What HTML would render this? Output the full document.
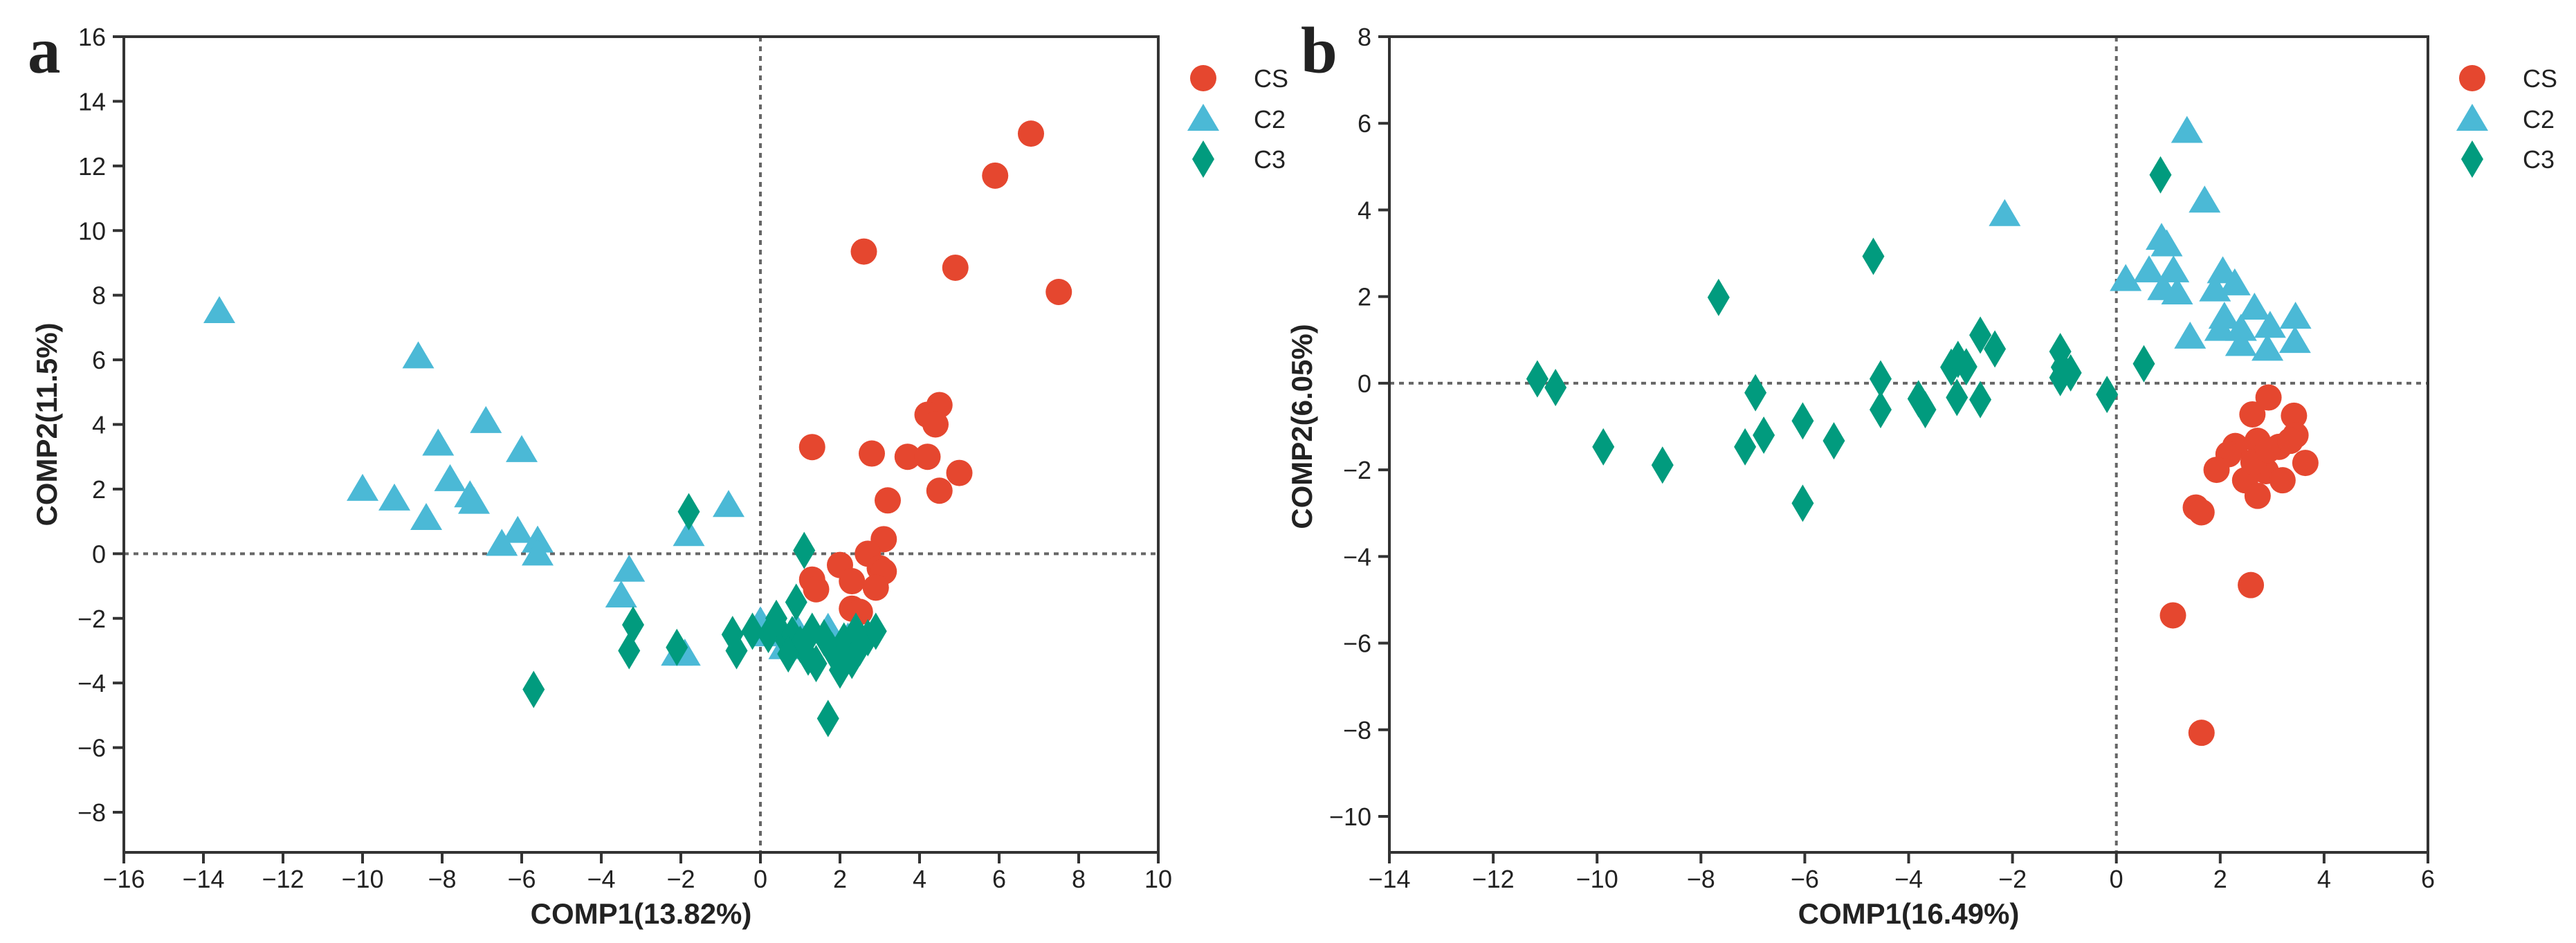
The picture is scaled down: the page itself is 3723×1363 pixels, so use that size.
<!DOCTYPE html>
<html><head><meta charset="utf-8"><style>
html,body{margin:0;padding:0;background:#fff;}
svg{display:block;}
text{font-family:"Liberation Sans",sans-serif;fill:#222;}
</style></head><body>
<svg id="fig" width="3723" height="1363" viewBox="0 0 3723 1363" xmlns="http://www.w3.org/2000/svg"></svg>
<script>
// ---- Panel a data ----
const aXTicks = [-16,-14,-12,-10,-8,-6,-4,-2,0,2,4,6,8,10];
const aYTicks = [16,14,12,10,8,6,4,2,0,-2,-4,-6,-8];
const aCSx = [6.8,5.9,2.6,4.9,7.5,4.5,4.2,4.4,1.3,2.8,3.7,4.2,5.0,4.5,3.2,3.1,2.7,2.0,3.0,3.1,1.3,2.3,1.4,2.9,2.3,2.5];
const aCSy = [13.0,11.7,9.35,8.85,8.1,4.6,4.3,4.0,3.3,3.1,3.0,3.0,2.5,1.95,1.65,0.45,0.0,-0.35,-0.45,-0.55,-0.8,-0.85,-1.1,-1.05,-1.7,-1.8];
const aC2x = [-13.6,-8.6,-6.9,-8.1,-6.0,-7.8,-10.0,-9.2,-7.3,-7.2,-8.4,-6.1,-6.5,-5.6,-5.6,-0.8,-1.8,-3.3,-3.5,-1.9,-2.1,0.0,0.4,0.9,1.7,0.6,1.0,2.2,0.2];
const aC2y = [7.5,6.1,4.1,3.4,3.2,2.3,2.0,1.7,1.8,1.6,1.1,0.7,0.3,0.4,0.0,1.5,0.6,-0.5,-1.3,-3.1,-3.1,-2.1,-2.1,-2.3,-2.3,-2.9,-2.8,-2.6,-2.5];
const aC3x = [-1.8,1.1,-3.2,-3.3,-2.1,-0.7,-0.6,-5.7,1.7,0.9,0.2,0.5,0.4,0.8,1.0,1.3,1.2,1.4,1.6,1.8,2.0,2.1,2.3,2.5,2.7,2.9,0.7,-0.2,2.4];
const aC3y = [1.3,0.1,-2.2,-3.0,-2.9,-2.5,-3.0,-4.2,-5.1,-1.5,-2.5,-2.4,-2.0,-2.5,-2.8,-2.4,-3.2,-3.4,-2.6,-3.0,-3.6,-2.7,-3.3,-2.9,-2.6,-2.4,-3.1,-2.4,-2.4];
// ---- Panel b data ----
const bXTicks = [-14,-12,-10,-8,-6,-4,-2,0,2,4,6];
const bYTicks = [8,6,4,2,0,-2,-4,-6,-8,-10];
const bCSx = [2.93,2.62,3.42,2.29,2.72,3.13,3.45,2.16,1.93,2.48,2.88,3.2,3.64,2.72,1.53,1.64,2.59,1.09,1.64,2.64,2.92,3.35];
const bCSy = [-0.33,-0.72,-0.75,-1.45,-1.33,-1.47,-1.2,-1.64,-2.0,-2.24,-2.03,-2.24,-1.84,-2.6,-2.87,-2.98,-4.66,-5.36,-8.07,-1.82,-1.54,-1.33];
const bC2x = [1.36,-2.15,1.7,0.87,0.97,0.18,0.63,1.1,0.9,1.17,2.05,1.9,2.28,2.08,2.4,2.66,2.96,1.42,2.4,2.91,3.45,3.44,2.0];
const bC2y = [5.82,3.9,4.21,3.35,3.2,2.4,2.6,2.6,2.19,2.09,2.58,2.16,2.3,1.53,1.25,1.74,1.32,1.07,0.9,0.79,1.53,0.97,1.25];
const bC3x = [-11.15,-10.8,-9.88,-8.74,-7.66,-6.95,-7.15,-6.79,-6.04,-6.04,-5.44,-4.68,-4.54,-4.54,-3.81,-3.68,-3.18,-3.05,-2.89,-3.07,-2.62,-2.62,-2.34,-1.08,-1.05,-1.08,-0.88,-0.18,0.53,0.85];
const bC3y = [0.1,-0.1,-1.47,-1.89,1.98,-0.22,-1.47,-1.2,-0.87,-2.77,-1.33,2.93,0.1,-0.61,-0.36,-0.61,0.37,0.55,0.38,-0.33,1.11,-0.38,0.79,0.73,0.37,0.13,0.24,-0.26,0.45,4.81];

const NS='http://www.w3.org/2000/svg';
const svg=document.getElementById('fig');
function mk(tag,attrs,parent){const e=document.createElementNS(NS,tag);for(const k in attrs)e.setAttribute(k,attrs[k]);(parent||svg).appendChild(e);return e;}
const RED='#e5472f',BLUE='#4bb9d6',GREEN='#019b7e';

function marker(g,type,cx,cy){
  let e;
  if(type==='cs'){e=mk('ellipse',{cx:cx,cy:cy,rx:19,ry:19,fill:RED},g);}
  else if(type==='c2'){e=mk('polygon',{points:(cx)+','+(cy-22)+' '+(cx-23)+','+(cy+17)+' '+(cx+23)+','+(cy+17),fill:BLUE},g);}
  else {e=mk('polygon',{points:cx+','+(cy-27)+' '+(cx+16)+','+cy+' '+cx+','+(cy+27)+' '+(cx-16)+','+cy,fill:GREEN},g);}
  return e;
}

function panel(p){
  const g=mk('g',{});
  
  
  const sx=v=>p.x0+(v-p.xmin)*(p.x1-p.x0)/(p.xmax-p.xmin);
  const sy=v=>p.yT+(p.ymax-v)*(p.yB-p.yT)/(p.ymax-p.ymin);
  const L=sx(p.xmin),R=sx(p.xmax),T=p.top,B=p.bottom;
  const zl=mk('line',{x1:L,x2:R,y1:sy(0),y2:sy(0),stroke:'#666','stroke-width':4,'stroke-dasharray':'7,7'},g);
  
  const zv=mk('line',{x1:sx(0),x2:sx(0),y1:T,y2:B,stroke:'#666','stroke-width':4,'stroke-dasharray':'7,7'},g);
  
  const fr=mk('rect',{x:L,y:T,width:R-L,height:B-T,fill:'none',stroke:'#333','stroke-width':4},g);
  
  p.xticks.forEach(v=>{
    const x=sx(v);
    mk('line',{x1:x,x2:x,y1:B,y2:B+16,stroke:'#333','stroke-width':4},g);
    const t=mk('text',{x:x,y:1283,'text-anchor':'middle','font-size':36},g);
    t.textContent=(v<0?'\u2212':'')+Math.abs(v);
    
  });
  p.yticks.forEach(v=>{
    const y=sy(v);
    mk('line',{x1:L-16,x2:L,y1:y,y2:y,stroke:'#333','stroke-width':4},g);
    const t=mk('text',{x:L-26,y:y+13,'text-anchor':'end','font-size':36},g);
    t.textContent=(v<0?'\u2212':'')+Math.abs(v);
    
  });
  const xt=mk('text',{x:(L+R)/2,y:1335,'text-anchor':'middle','font-size':42,'font-weight':'bold',fill:'#111'},g);
  xt.textContent=p.xtitle;
  const yt=mk('text',{x:0,y:0,'text-anchor':'middle','font-size':42,'font-weight':'bold',fill:'#111',transform:'translate('+p.ytx+','+(sy(p.ytc))+') rotate(-90)'},g);
  yt.textContent=p.ytitle;
  const lt=mk('text',{x:p.letterX,y:105,'font-size':95,'font-weight':'bold',style:'font-family:"Liberation Serif",serif',fill:'#000'},g);
  lt.textContent=p.letter;
  [['cs',p.csx,p.csy],['c2',p.c2x,p.c2y],['c3',p.c3x,p.c3y]].forEach(s=>{
    const sg=mk('g',{},g);
    
    s[1].forEach((xv,i)=>{
      const m=marker(sg,s[0],sx(xv),sy(s[2][i]));
      
      
    });
  });
  const lg=mk('g',{},g);
  
  [['cs','CS',113],['c2','C2',172],['c3','C3',230]].forEach(e=>{
    const eg=mk('g',{},lg);
    
    marker(eg,e[0],p.legX,e[2]);
    const t=mk('text',{x:p.legX+73,y:e[2]+13,'font-size':36},eg);
    t.textContent=e[1];
  });
}

panel({name:'panel-a',letter:'a',letterX:40,x0:179,x1:1674,xmin:-16,xmax:10,yT:53,yB:1174,ymin:-8,ymax:16,top:53,bottom:1232,
  xticks:aXTicks,yticks:aYTicks,xtitle:'COMP1(13.82%)',ytitle:'COMP2(11.5%)',ytx:82,ytc:4,legX:1739,
  csx:aCSx,csy:aCSy,c2x:aC2x,c2y:aC2y,c3x:aC3x,c3y:aC3y});
panel({name:'panel-b',letter:'b',letterX:1880,x0:2008,x1:3509,xmin:-14,xmax:6,yT:53,yB:1180,ymin:-10,ymax:8,top:53,bottom:1232,
  xticks:bXTicks,yticks:bYTicks,xtitle:'COMP1(16.49%)',ytitle:'COMP2(6.05%)',ytx:1896,ytc:-1,legX:3573,
  csx:bCSx,csy:bCSy,c2x:bC2x,c2y:bC2y,c3x:bC3x,c3y:bC3y});
</script>
</body></html>
